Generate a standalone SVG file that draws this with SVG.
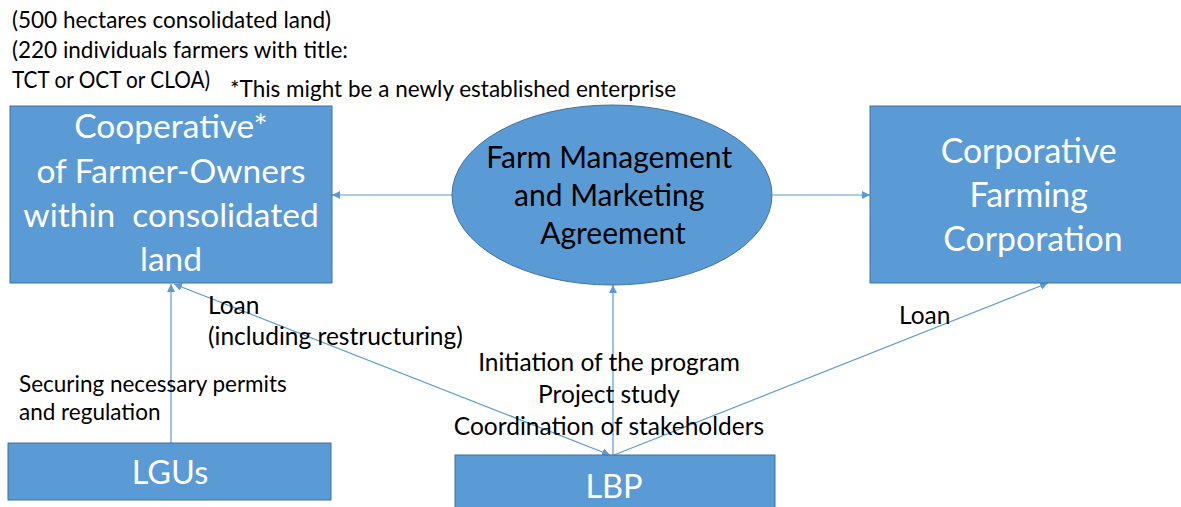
<svg xmlns="http://www.w3.org/2000/svg" width="1181" height="507" viewBox="0 0 1181 507">
  <defs>
    <marker id="ah" viewBox="0 0 10 10" refX="10" refY="5" markerWidth="8" markerHeight="8" markerUnits="userSpaceOnUse" orient="auto-start-reverse">
      <path d="M0,0 L10,5 L0,10 z" fill="#5B9BD5"/>
    </marker>
    <style>
      .box { fill: #5B9BD5; stroke: #41719C; stroke-width: 1; }
      .wt { fill: #FFFFFF; font-family: Lato, "Open Sans", sans-serif; text-anchor: middle; }
      .bt { fill: #000000; font-family: Lato, "Open Sans", sans-serif; }
      .con { stroke: #5B9BD5; stroke-width: 1.2; fill: none; }
    </style>
  </defs>
  <rect width="1181" height="507" fill="#FFFFFF"/>

  <g id="notes" class="bt" font-size="22.5">
    <text x="12" y="28">(500 hectares consolidated land)</text>
    <text x="12" y="58">(220 individuals farmers with title:</text>
    <text x="12" y="88" textLength="198" lengthAdjust="spacingAndGlyphs">TCT or OCT or CLOA)</text>
    <text x="230" y="97">*This might be a newly established enterprise</text>
  </g>

  <g id="connectors">
    <line class="con" x1="452" y1="195" x2="332" y2="195" marker-end="url(#ah)"/>
    <line class="con" x1="773" y1="195" x2="870" y2="195" marker-end="url(#ah)"/>
    <line class="con" x1="171" y1="443" x2="171" y2="284" marker-end="url(#ah)"/>
    <line class="con" x1="610" y1="455" x2="174" y2="284" marker-start="url(#ah)" marker-end="url(#ah)"/>
    <line class="con" x1="613" y1="455" x2="613" y2="285" marker-end="url(#ah)"/>
    <line class="con" x1="614" y1="455" x2="1048" y2="283" marker-end="url(#ah)"/>
  </g>

  <g id="coop">
    <rect class="box" x="10" y="106" width="322" height="177"/>
    <text class="wt" font-size="33.5" x="171" y="138">Cooperative*</text>
    <text class="wt" font-size="33.5" x="171" y="183">of Farmer-Owners</text>
    <text class="wt" font-size="33.5" x="171" y="227" xml:space="preserve">within  consolidated</text>
    <text class="wt" font-size="33.5" x="171" y="271">land</text>
  </g>

  <g id="agreement">
    <ellipse class="box" cx="612" cy="195" rx="160" ry="90"/>
    <text class="bt" font-size="30" text-anchor="middle">
      <tspan x="613" y="168">Farm Management</tspan>
      <tspan x="613" y="206">and Marketing</tspan>
      <tspan x="613" y="244">Agreement</tspan>
    </text>
  </g>

  <g id="corp">
    <rect class="box" x="870" y="106" width="320" height="177"/>
    <text class="wt" font-size="33.8">
      <tspan x="1033" y="163">Corporative</tspan>
      <tspan x="1033" y="207">Farming</tspan>
      <tspan x="1033" y="251">Corporation</tspan>
    </text>
  </g>

  <g id="lgus">
    <rect class="box" x="8" y="443" width="323" height="57"/>
    <text class="wt" font-size="32.5" x="170" y="484">LGUs</text>
  </g>

  <g id="lbp">
    <rect class="box" x="455" y="455" width="320" height="60"/>
    <text class="wt" font-size="32.5" x="614" y="498">LBP</text>
  </g>

  <g id="labels" class="bt">
    <text x="208" y="314" font-size="24.5">Loan</text>
    <text x="208" y="345" font-size="24.5">(including restructuring)</text>
    <text x="19" y="392" font-size="22.5">Securing necessary permits</text>
    <text x="19" y="420" font-size="22.5">and regulation</text>
    <text x="609" y="371" font-size="24.5" text-anchor="middle">Initiation of the program</text>
    <text x="609" y="403" font-size="24.5" text-anchor="middle">Project study</text>
    <text x="609" y="435" font-size="24.5" text-anchor="middle">Coordination of stakeholders</text>
    <text x="899" y="324" font-size="24.5">Loan</text>
  </g>
</svg>
